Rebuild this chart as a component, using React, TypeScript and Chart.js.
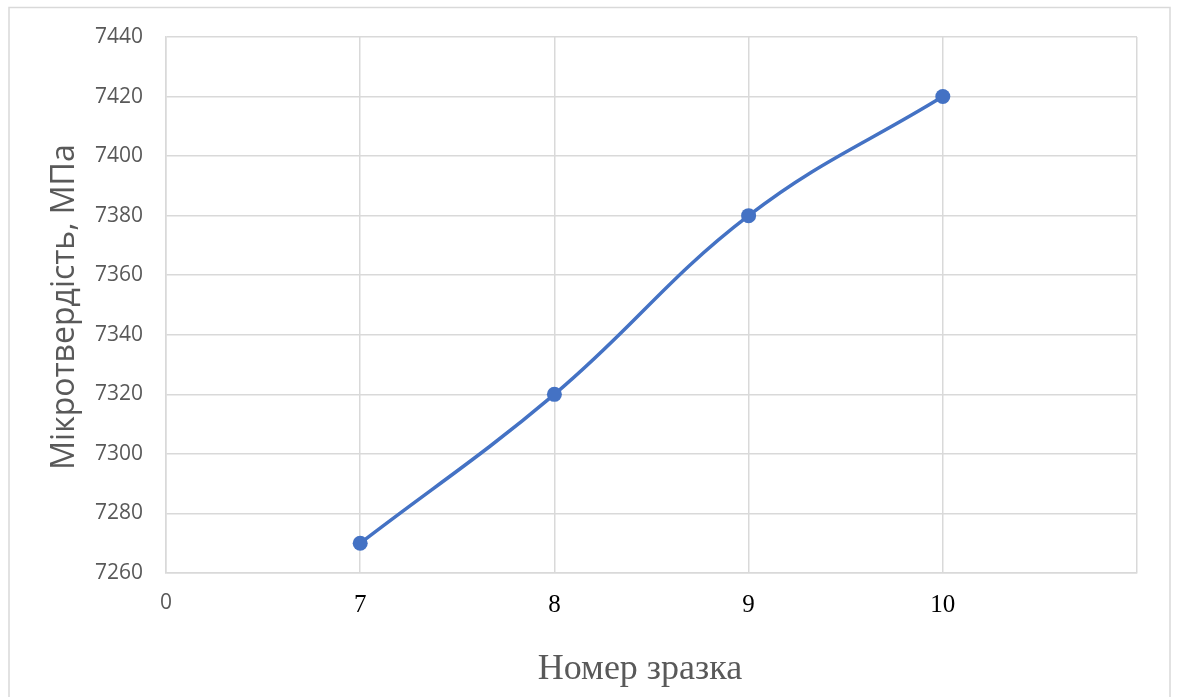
import React, { useEffect, useRef } from "react";
import { Chart, registerables } from "chart.js";

Chart.register(...registerables);

// Sample numbers along the category axis (the trailing empty slot closes the plot frame)
const sampleLabels: string[] = ["0", "7", "8", "9", "10", ""];
// Microhardness per sample, MPa
const hardnessValues: (number | null)[] = [null, 7270, 7320, 7380, 7420, null];

const yMin = 7260;
const yMax = 7440;
const yStep = 20;

const yTitle = "Мікротвердість, МПа";
const xTitle = "Номер зразка";

const SANS = "'Open Sans', 'Liberation Sans', sans-serif";
const SERIF = "'Liberation Serif', 'DejaVu Serif', serif";
const GRID = "#d9d9d9";
const LINE = "#4472C4";

// Frame around the whole chart plus the two axis titles
const decorations = {
  id: "decorations",
  beforeDraw(chart: Chart) {
    const ctx = chart.ctx;
    ctx.save();
    ctx.strokeStyle = GRID;
    ctx.lineWidth = 1.5;
    ctx.strokeRect(9, 7.5, 1161, 740);
    ctx.restore();
  },
  afterDraw(chart: Chart) {
    const ctx = chart.ctx;
    const area = chart.chartArea;
    ctx.save();
    ctx.fillStyle = "#595959";
    ctx.textAlign = "center";
    ctx.textBaseline = "middle";
    // vertical title
    ctx.save();
    ctx.translate(65, (area.top + area.bottom) / 2 + 2);
    ctx.rotate(-Math.PI / 2);
    ctx.font = `32px ${SANS}`;
    ctx.fillText(yTitle, 0, 0);
    ctx.restore();
    // horizontal title
    ctx.font = `36px ${SERIF}`;
    ctx.fillText(xTitle, 640, 670);
    ctx.restore();
  },
};

export default function App() {
  const canvasRef = useRef<HTMLCanvasElement | null>(null);

  useEffect(() => {
    const canvas = canvasRef.current;
    if (!canvas) return;
    const chart = new Chart(canvas, {
      type: "line",
      data: {
        labels: sampleLabels,
        datasets: [
          {
            data: hardnessValues,
            borderColor: LINE,
            backgroundColor: LINE,
            borderWidth: 3.5,
            pointRadius: 7.5,
            pointHoverRadius: 7.5,
            pointBackgroundColor: LINE,
            pointBorderColor: LINE,
            pointBorderWidth: 0,
            tension: 0.4,
            fill: false,
          },
        ],
      },
      options: {
        responsive: false,
        animation: false,
        layout: { padding: { top: 37, right: 41, left: 0, bottom: 0 } },
        plugins: {
          legend: { display: false },
          tooltip: { enabled: false },
          title: { display: false },
        },
        scales: {
          x: {
            type: "category",
            offset: false,
            afterFit(scale: any) {
              scale.height = 124;
            },
            grid: {
              color: GRID,
              lineWidth: 1.5,
              drawTicks: false,
              offset: false,
            },
            border: { color: GRID, width: 1.5 },
            ticks: {
              autoSkip: false,
              maxRotation: 0,
              minRotation: 0,
              padding: 17,
              color: (c: any) => (c.index === 0 ? "#595959" : "#000000"),
              font: (c: any) =>
                c.index === 0
                  ? { family: SANS, size: 21 }
                  : { family: SERIF, size: 25 },
            },
          },
          y: {
            min: yMin,
            max: yMax,
            afterFit(scale: any) {
              scale.width = 166;
            },
            grid: { color: GRID, lineWidth: 1.5, drawTicks: false },
            border: { color: GRID, width: 1.5 },
            ticks: {
              stepSize: yStep,
              padding: 23,
              color: "#595959",
              font: { family: SANS, size: 21 },
              callback: (v: any) => String(v),
            },
          },
        },
      },
      plugins: [decorations],
    });
    return () => chart.destroy();
  }, []);

  return (
    <div style={{ position: "fixed", left: 0, top: 0, width: 1178, height: 697, background: "#fff" }}>
      <canvas ref={canvasRef} width={1178} height={697} />
    </div>
  );
}
